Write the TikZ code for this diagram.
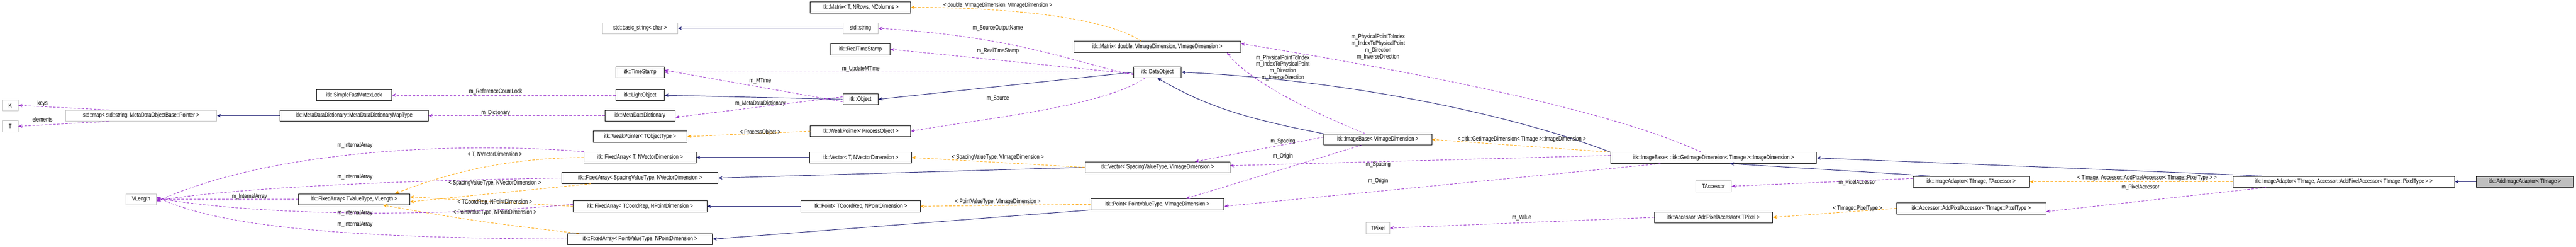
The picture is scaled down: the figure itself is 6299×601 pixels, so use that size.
\documentclass[tikz,border=0pt]{standalone}
\usepackage{fontspec}
\setmainfont{Liberation Sans}[FakeStretch=0.8]
\usetikzlibrary{arrows.meta}
\definecolor{inh}{HTML}{191970}
\definecolor{use}{HTML}{9A32CD}
\definecolor{tpl}{HTML}{FFA500}
\begin{document}
\begin{tikzpicture}[x=1pt,y=-1pt,
 box/.style={draw=black,line width=1pt,fill=white,minimum height=27pt,inner sep=2pt,font=\fontsize{15}{16}\selectfont},
 ext/.style={box,draw=black!25},
 lbl/.style={font=\fontsize{15}{16}\selectfont,inner sep=1pt,align=center},
 tip/.style={-{Stealth[length=10pt,width=8pt]}},
 inh/.style={tip,draw=inh,line width=1.2pt},
 use/.style={tip,draw=use,line width=1.2pt,dash pattern=on 6pt off 4pt},
 tpl/.style={tip,draw=tpl,line width=1.2pt,dash pattern=on 6pt off 4pt}]
\useasboundingbox (0,0) rectangle (6299,601);
% nodes
\node[ext,minimum width=38] (K) at (25,257) {K};
\node[ext,minimum width=38] (T) at (25,308) {T};
\node[ext,minimum width=370] (map) at (345,282) {std::map< std::string, MetaDataObjectBase::Pointer >};
\node[box,minimum width=183] (mutex) at (866,232) {itk::SimpleFastMutexLock};
\node[box,minimum width=362] (mddmt) at (866,282) {itk::MetaDataDictionary::MetaDataDictionaryMapType};
\node[ext,minimum width=75] (vl) at (345,486) {VLength};
\node[box,minimum width=272] (fatv) at (866,486) {itk::FixedArray< TValueType, VLength >};
\node[box,minimum width=245] (mat) at (2104,18) {itk::Matrix< T, NRows, NColumns >};
\node[ext,minimum width=184] (bstr) at (1565,69) {std::basic\_string< char >};
\node[ext,minimum width=86] (str) at (2104,69) {std::string};
\node[box,minimum width=145] (rts) at (2104,120) {itk::RealTimeStamp};
\node[box,minimum width=118] (ts) at (1565,176) {itk::TimeStamp};
\node[box,minimum width=118] (lo) at (1565,232) {itk::LightObject};
\node[box,minimum width=172] (mdd) at (1565,282) {itk::MetaDataDictionary};
\node[box,minimum width=86] (obj) at (2104,242) {itk::Object};
\node[box,minimum width=230] (wpt) at (1565,333) {itk::WeakPointer< TObjectType >};
\node[box,minimum width=245] (wpp) at (2104,320) {itk::WeakPointer< ProcessObject >};
\node[box,minimum width=274] (fatn) at (1565,384) {itk::FixedArray< T, NVectorDimension >};
\node[box,minimum width=250] (vtn) at (2104,384) {itk::Vector< T, NVectorDimension >};
\node[box,minimum width=382] (fasn) at (1565,434) {itk::FixedArray< SpacingValueType, NVectorDimension >};
\node[box,minimum width=327] (facp) at (1565,503) {itk::FixedArray< TCoordRep, NPointDimension >};
\node[box,minimum width=292] (ptcp) at (2104,503) {itk::Point< TCoordRep, NPointDimension >};
\node[box,minimum width=354] (fapp) at (1565,583) {itk::FixedArray< PointValueType, NPointDimension >};
\node[box,minimum width=407] (matd) at (2830,114) {itk::Matrix< double, VImageDimension, VImageDimension >};
\node[box,minimum width=117] (dobj) at (2830,176) {itk::DataObject};
\node[box,minimum width=354] (vsv) at (2830,408) {itk::Vector< SpacingValueType, VImageDimension >};
\node[box,minimum width=326] (ppv) at (2830,498) {itk::Point< PointValueType, VImageDimension >};
\node[box,minimum width=264] (ibv) at (3369,340) {itk::ImageBase< VImageDimension >};
\node[box,minimum width=503] (ibg) at (4190,385) {itk::ImageBase< ::itk::GetImageDimension< TImage >::ImageDimension >};
\node[ext,minimum width=58] (tpix) at (3369,556) {TPixel};
\node[box,minimum width=289] (apt) at (4190,530) {itk::Accessor::AddPixelAccessor< TPixel >};
\node[ext,minimum width=87] (tacc) at (4190,454) {TAccessor};
\node[box,minimum width=285] (iat) at (4820,443) {itk::ImageAdaptor< TImage, TAccessor >};
\node[box,minimum width=365] (apx) at (4820,508) {itk::Accessor::AddPixelAccessor< TImage::PixelType >};
\node[box,minimum width=541] (iaa) at (5731,443) {itk::ImageAdaptor< TImage, Accessor::AddPixelAccessor< TImage::PixelType > >};
\node[box,fill=black!25,minimum width=239] (aia) at (6174,443) {itk::AddImageAdaptor< TImage >};
% inheritance
\draw[inh] (mddmt) -- (map);
\draw[inh] (str) -- (bstr);
\draw[inh] (obj.west) -- (lo.east);
\draw[inh] (dobj.west) -- (obj.east);
\draw[inh] (ibv.north west) .. controls (3050,290) and (2950,260) .. (dobj.south);
\draw[inh] (ibg.north west) .. controls (3700,280) and (3300,195) .. (dobj.east);
\draw[inh] (vtn) -- (fatn);
\draw[inh] (vsv.west) -- (fasn.east);
\draw[inh] (ptcp) -- (facp);
\draw[inh] (ppv.south west) -- (fapp.east);
\draw[inh] ([xshift=-100pt]iat.north) -- ([xshift=40pt]ibg.south);
\draw[inh] ([xshift=-200pt]iaa.north) -- (ibg.east);
\draw[inh] (aia) -- (iaa);
% templates
\draw[tpl] ([xshift=-40pt]matd.north) .. controls (2700,40) and (2450,18) .. (mat.east);
\draw[tpl] (wpp.west) -- (wpt.east);
\draw[tpl] (fatn.west) .. controls (1200,385) and (1050,440) .. ([xshift=100pt]fatv.north);
\draw[tpl] ([xshift=-120pt]fasn.south) -- ([yshift=-6pt]fatv.east);
\draw[tpl] (facp.west) -- ([yshift=6pt]fatv.east);
\draw[tpl] ([xshift=-150pt]fapp.north) .. controls (1150,540) and (1050,520) .. ([xshift=70pt]fatv.south);
\draw[tpl] (vsv.west) -- (vtn.east);
\draw[tpl] (ppv.west) -- (ptcp.east);
\draw[tpl] (ibg.north west) -- (ibv.east);
\draw[tpl] (iaa.west) -- (iat.east);
\draw[tpl] (apx.west) -- (apt.east);
% usage
\draw[use] (map.170) -- (K.east);
\draw[use] (map.190) -- (T.east);
\draw[use] (lo.west) -- (mutex.east);
\draw[use] (mdd.west) -- (mddmt.east);
\draw[use] ([yshift=-6pt]obj.west) -- ([yshift=5pt]ts.east);
\draw[use] ([yshift=6pt]obj.west) -- ([yshift=-4pt]mdd.east);
\draw[use] (dobj.west) -- (ts.east);
\draw[use] ([yshift=-6pt]dobj.west) .. controls (2650,160) and (2500,90) .. (str.east);
\draw[use] ([yshift=-4pt]dobj.west) -- (rts.east);
\draw[use] ([xshift=-30pt]dobj.south) .. controls (2700,260) and (2400,290) .. (wpp.east);
\draw[use] (fatn.north west) .. controls (1200,350) and (700,350) .. ([yshift=-5pt]vl.east);
\draw[use] (fasn.west) .. controls (1000,440) and (600,455) .. ([yshift=-3pt]vl.east);
\draw[use] (fatv.west) -- (vl.east);
\draw[use] ([yshift=5pt]facp.west) .. controls (1000,535) and (600,520) .. ([yshift=3pt]vl.east);
\draw[use] (fapp.west) .. controls (900,580) and (550,560) .. ([yshift=6pt]vl.east);
\draw[use] ([xshift=-30pt]ibv.north) .. controls (3150,250) and (3040,180) .. ([xshift=170pt]matd.south);
\draw[use] ([xshift=-30pt]ibg.north) .. controls (3900,250) and (3300,150) .. ([yshift=8pt]matd.east);
\draw[use] ([yshift=6pt]ibv.west) -- ([xshift=92pt]vsv.north);
\draw[use] ([xshift=-40pt]ibv.south) -- ([xshift=70pt]ppv.north);
\draw[use] ([yshift=6pt]ibg.west) -- ([yshift=4pt]vsv.east);
\draw[use] ([xshift=-130pt]ibg.south) -- ([yshift=-5pt]ppv.east);
\draw[use] (apt.west) -- (tpix.east);
\draw[use] ([yshift=8pt]iat.west) -- (tacc.east);
\draw[use] ([xshift=-190pt]iaa.south) -- ([yshift=-8pt]apx.east);
% labels
\node[lbl] at (104,253) {keys};
\node[lbl] at (104,291) {elements};
\node[lbl] at (1212,223) {m\_ReferenceCountLock};
\node[lbl] at (1212,275) {m\_Dictionary};
\node[lbl] at (1859,197) {m\_MTime};
\node[lbl] at (1859,253) {m\_MetaDataDictionary};
\node[lbl] at (1859,323) {< ProcessObject >};
\node[lbl] at (2105,168) {m\_UpdateMTime};
\node[lbl] at (2440,13) {< double, VImageDimension, VImageDimension >};
\node[lbl] at (2440,69) {m\_SourceOutputName};
\node[lbl] at (2440,124) {m\_RealTimeStamp};
\node[lbl] at (2440,240) {m\_Source};
\node[lbl] at (868,355) {m\_InternalArray};
\node[lbl] at (868,432) {m\_InternalArray};
\node[lbl] at (610,479) {m\_InternalArray};
\node[lbl] at (868,520) {m\_InternalArray};
\node[lbl] at (868,547) {m\_InternalArray};
\node[lbl] at (1210,376) {< T, NVectorDimension >};
\node[lbl] at (1210,447) {< SpacingValueType, NVectorDimension >};
\node[lbl] at (1210,493) {< TCoordRep, NPointDimension >};
\node[lbl] at (1210,518) {< PointValueType, NPointDimension >};
\node[lbl] at (2440,383) {< SpacingValueType, VImageDimension >};
\node[lbl] at (2440,492) {< PointValueType, VImageDimension >};
\node[lbl,font=\fontsize{15}{16}\selectfont,text depth=0pt] at (3370,113) {m\_PhysicalPointToIndex\\[0pt]m\_IndexToPhysicalPoint\\[0pt]m\_Direction\\[0pt]m\_InverseDirection};
\node[lbl] at (3137,165) {m\_PhysicalPointToIndex\\[0pt]m\_IndexToPhysicalPoint\\[0pt]m\_Direction\\[0pt]m\_InverseDirection};
\node[lbl] at (3137,345) {m\_Spacing};
\node[lbl] at (3137,381) {m\_Origin};
\node[lbl] at (3721,340) {< ::itk::GetImageDimension< TImage >::ImageDimension >};
\node[lbl] at (3370,401) {m\_Spacing};
\node[lbl] at (3370,441) {m\_Origin};
\node[lbl] at (3721,531) {m\_Value};
\node[lbl] at (4542,445) {m\_PixelAccessor};
\node[lbl] at (4542,508) {< TImage::PixelType >};
\node[lbl] at (5250,434) {< TImage, Accessor::AddPixelAccessor< TImage::PixelType > >};
\node[lbl] at (5234,456) {m\_PixelAccessor};
\end{tikzpicture}
\end{document}
